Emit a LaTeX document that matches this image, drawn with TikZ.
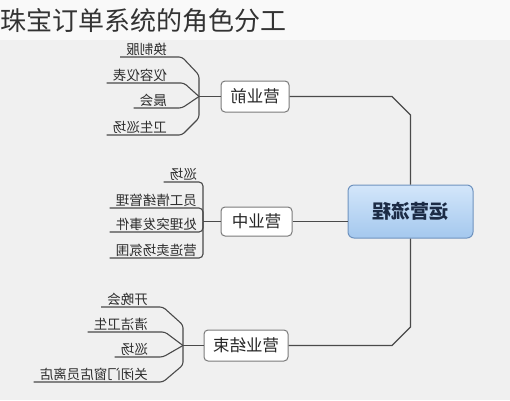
\documentclass[tikz,border=0pt]{standalone}
\usepackage{fontspec}
\usepackage{graphicx}
\setmainfont{Noto Sans CJK SC}
\definecolor{bgtop}{HTML}{F9F9F9}
\definecolor{bgmain}{HTML}{F0F0F0}
\definecolor{linegray}{HTML}{4A4A4A}
\definecolor{leafc}{HTML}{2E2E2E}
\definecolor{boxborder}{HTML}{7A7A7A}
\definecolor{ctop}{HTML}{D3E6FA}
\definecolor{cbot}{HTML}{A4C8EE}
\definecolor{cborder}{HTML}{6F93BF}
\definecolor{ctext}{HTML}{1C2B45}
\definecolor{titlec}{HTML}{333333}
\newcommand{\mirtext}[1]{\reflectbox{#1}}
\begin{document}
\begin{tikzpicture}[x=1pt,y=-1pt,
  leaftext/.style={font=\fontsize{13.5}{14}\selectfont, text=leafc, inner xsep=6pt, inner ysep=1.5pt, anchor=south east},
  branchbox/.style={draw=boxborder, fill=white, line width=1pt, rounded corners=4pt, font=\fontsize{16.5}{17}\selectfont, text=black!85, inner sep=0pt},
  centerbox/.style={draw=cborder, top color=ctop, bottom color=cbot, line width=1pt, rounded corners=6pt, font=\bfseries\fontsize{19}{20}\selectfont, text=ctext, minimum width=125pt, minimum height=53pt, inner sep=0pt},
  trunk/.style={draw=linegray, line width=1.2pt},
  leafline/.style={draw=linegray, line width=1.1pt, rounded corners=3pt},
  bracket/.style={draw=linegray, line width=1.1pt, rounded corners=4pt}]
\useasboundingbox (0,0) rectangle (510,400);
\fill[bgtop] (0,0) rectangle (510,40);
\fill[bgmain] (0,40) rectangle (510,400);
% title
\node[anchor=west, inner sep=0pt, font=\fontsize{26}{28}\selectfont, text=titlec] (title) at (0,21) {珠宝订单系统的角色分工};
% center
\node[centerbox] (C) at (410.5,211.5) {\mirtext{运营流程}};
% branches
\node[branchbox, minimum width=68pt, minimum height=31pt] (B1) at (255,96.5) {\mirtext{营业前}};
\node[branchbox, minimum width=71pt, minimum height=29pt] (B2) at (256.5,221.5) {\mirtext{营业中}};
\node[branchbox, minimum width=84pt, minimum height=31pt] (B3) at (246,345.5) {\mirtext{营业结束}};
% trunk coordinates
\coordinate (T1) at (410.5,115);
\coordinate (T2) at (392,96.5);
\coordinate (T3) at (410.5,327);
\coordinate (T4) at (392,345.5);
\draw[trunk] (C.north) -- (T1) -- (T2) -- (B1.east);
\draw[trunk] (B2.east) -- (B2.east -| C.west);
\draw[trunk] (C.south) -- (T3) -- (T4) -- (B3.east);
% junctions
\coordinate (J1) at (199,96.5);
\coordinate (J2) at (203,221.5);
\coordinate (J3) at (183,345.5);
\draw[trunk] (B1.west) -- (J1);
\draw[trunk] (B2.west) -- (J2);
\draw[trunk] (B3.west) -- (J3);
% group 1 leaves
\node[leaftext] (l11) at (173,57) {\mirtext{换制服}};
\node[leaftext] (l12) at (173,83) {\mirtext{仪容仪表}};
\node[leaftext] (l13) at (173,108) {\mirtext{晨会}};
\node[leaftext] (l14) at (173,135) {\mirtext{卫生巡场}};
\coordinate (e11) at (182,57);
\coordinate (k11) at (199,75);
\coordinate (e12) at (184,83);
\coordinate (e13) at (182,108);
\coordinate (e14) at (182,135);
\coordinate (k14) at (199,118);
\draw[leafline] (l11.south west) -- (e11) -- (k11) -- (J1);
\draw[leafline] (l12.south west) -- (e12) -- (J1);
\draw[leafline] (l13.south west) -- (e13) -- (J1);
\draw[leafline] (l14.south west) -- (e14) -- (k14) -- (J1);
% group 2 leaves
\node[leaftext] (l21) at (203,182) {\mirtext{巡场}};
\node[leaftext] (l22) at (203,208) {\mirtext{员工情绪管理}};
\node[leaftext] (l23) at (203,232) {\mirtext{处理突发事件}};
\node[leaftext] (l24) at (203,258) {\mirtext{营造卖场氛围}};
\coordinate (c21) at (203,182);
\coordinate (c22) at (203,208);
\coordinate (c23) at (203,232);
\coordinate (c24) at (203,258);
\draw[bracket] (l21.south west) -- (c21) -- (J2);
\draw[bracket] (l22.south west) -- (c22) -- (J2);
\draw[bracket] (l23.south west) -- (c23) -- (J2);
\draw[bracket] (l24.south west) -- (c24) -- (J2);
% group 3 leaves
\node[leaftext] (l31) at (154,307) {\mirtext{开晚会}};
\node[leaftext] (l32) at (154,332) {\mirtext{清洁卫生}};
\node[leaftext] (l33) at (154,357) {\mirtext{巡场}};
\node[leaftext] (l34) at (154,382) {\mirtext{关闭门窗店员离店}};
\coordinate (e31) at (163,307);
\coordinate (k31) at (183,325);
\coordinate (e32) at (165,332);
\coordinate (e33) at (163,357);
\coordinate (e34) at (163,382);
\coordinate (k34) at (183,365);
\draw[leafline] (l31.south west) -- (e31) -- (k31) -- (J3);
\draw[leafline] (l32.south west) -- (e32) -- (J3);
\draw[leafline] (l33.south west) -- (e33) -- (J3);
\draw[leafline] (l34.south west) -- (e34) -- (k34) -- (J3);
\end{tikzpicture}
\end{document}
